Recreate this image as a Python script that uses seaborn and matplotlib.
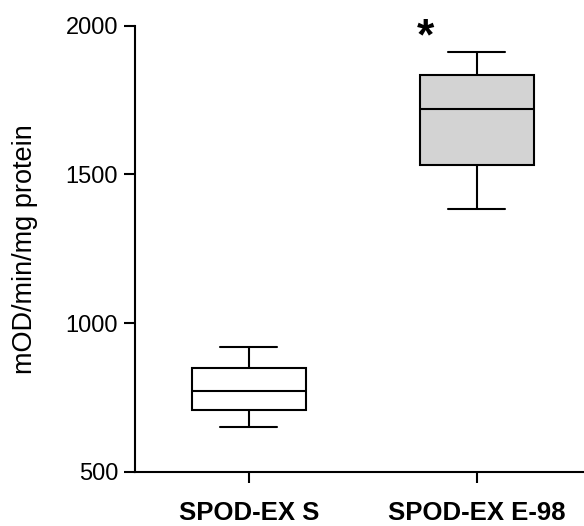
import pandas as pd
import matplotlib
matplotlib.use("Agg")
import matplotlib.pyplot as plt
import seaborn as sns

groups = ["SPOD-EX S", "SPOD-EX E-98"]
# min, Q1, median, Q3, max
spod_s = [650, 708, 771, 849, 919]
spod_e98 = [1383, 1533, 1719, 1834, 1913]
box_colors = ["white", "#d3d3d3"]

df = pd.DataFrame({
    "group": [groups[0]] * len(spod_s) + [groups[1]] * len(spod_e98),
    "value": spod_s + spod_e98,
})

sns.set_style("ticks")
plt.rcParams["font.family"] = ["Liberation Sans", "DejaVu Sans"]
plt.rcParams["text.color"] = "black"
plt.rcParams["axes.labelcolor"] = "black"
plt.rcParams["xtick.color"] = "black"
plt.rcParams["ytick.color"] = "black"

fig = plt.figure(figsize=(5.84, 5.26), dpi=100)
ax = fig.add_axes([0.231, 0.103, 0.769, 0.848])

sns.boxplot(data=df, x="group", y="value", hue="group", palette=box_colors,
            order=groups, whis=(0, 100), width=0.5, linewidth=1.5,
            linecolor="black", legend=False, ax=ax)

ax.set_ylim(500, 2000)
ax.set_xlim(-0.5, 1.47)
ax.set_yticks([500, 1000, 1500, 2000])
ax.set_xlabel("")
ax.set_ylabel("mOD/min/mg protein", fontsize=19.5, labelpad=20)
ax.tick_params(axis="both", direction="out", length=8, width=1.5, labelsize=17, pad=4)
for lbl in ax.get_xticklabels():
    lbl.set_fontweight("bold")
    lbl.set_fontsize(18.5)
ax.tick_params(axis="x", pad=13)
for s in ["left", "bottom"]:
    ax.spines[s].set_linewidth(1.5)
    ax.spines[s].set_color("black")
sns.despine(ax=ax)

ax.text(0.775, 1958, "*", ha="center", va="center", fontsize=32, fontweight="bold")

fig.savefig("out.png", dpi=100)
